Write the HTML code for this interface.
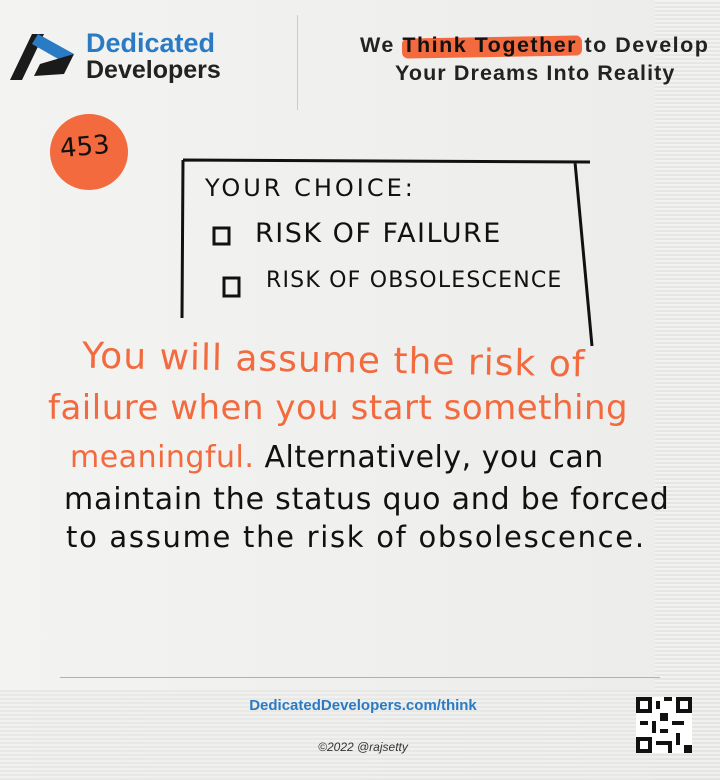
<!DOCTYPE html>
<html><head><meta charset="utf-8"><style>
body{margin:0;width:720px;height:780px;overflow:hidden;background:#efefed;font-family:"Liberation Sans",sans-serif;position:relative}
.abs{position:absolute}
.hand{font-family:"DejaVu Sans","Liberation Sans",sans-serif;white-space:nowrap}
</style></head><body>
<div class="abs" style="left:0;top:0;width:720px;height:780px;background:linear-gradient(90deg,#f3f3f1,#ececea)"></div>
<div class="abs" style="left:655px;top:0;width:65px;height:780px;background:repeating-linear-gradient(0deg,#e6e6e4 0 2px,#f2f2f0 2px 4px)"></div>
<div class="abs" style="left:0;top:690px;width:720px;height:90px;background:repeating-linear-gradient(0deg,#e4e4e2 0 2px,#f0f0ee 2px 4px);opacity:.7"></div>

<svg class="abs" style="left:8px;top:30px" width="70" height="52" viewBox="0 0 70 52">
<polygon points="2,50 24,4 36,4 14,50" fill="#1a1a1a"/>
<polygon points="30,4 66,24 52,30 24,14" fill="#2a7bc4"/>
<polygon points="32,34 66,24 56,44 26,46" fill="#1a1a1a"/>
</svg>
<div class="abs" style="left:86px;top:28px;font-size:27px;font-weight:bold;color:#2a7bc4">Dedicated</div>
<div class="abs" style="left:86px;top:56px;font-size:25px;font-weight:bold;color:#222">Developers</div>
<div class="abs" style="left:297px;top:15px;width:1px;height:95px;background:#ccc"></div>
<div class="abs" style="left:402px;top:37px;width:180px;height:20px;background:#f26a3d;border-radius:6px;transform:rotate(-1deg)"></div>
<div class="abs" style="left:360px;top:33px;font-size:21.5px;letter-spacing:1.5px;font-weight:bold;color:#222;white-space:nowrap">We <span style="color:#111">Think Together</span> to Develop</div>
<div class="abs" style="left:395px;top:61px;font-size:21.5px;letter-spacing:1.1px;font-weight:bold;color:#222;white-space:nowrap">Your Dreams Into Reality</div>

<div class="abs" style="left:50px;top:114px;width:78px;height:76px;border-radius:50%;background:#f26a3d"></div>
<div class="abs hand" style="left:60px;top:132px;font-size:26px;color:#111;transform:rotate(-5deg)">453</div>

<svg class="abs" style="left:0;top:0" width="720" height="780">
<path d="M183,160 L590,162 M183,160 L182,318 M575,162 L592,346" stroke="#111" stroke-width="3" fill="none"/>
<rect x="214" y="228" width="15" height="16" fill="none" stroke="#111" stroke-width="3"/>
<rect x="224" y="278" width="15" height="18" fill="none" stroke="#111" stroke-width="3"/>
</svg>
<div class="abs hand" style="left:205px;top:174px;font-size:24px;letter-spacing:3px;color:#111">YOUR CHOICE:</div>
<div class="abs hand" style="left:255px;top:218px;font-size:27px;letter-spacing:1.5px;color:#111">RISK OF FAILURE</div>
<div class="abs hand" style="left:266px;top:268px;font-size:22px;letter-spacing:1.2px;color:#111">RISK OF OBSOLESCENCE</div>

<div class="abs hand" style="left:82px;top:340px;font-size:36px;letter-spacing:1px;color:#f26a3d;transform:rotate(1deg)">You will assume the risk of</div>
<div class="abs hand" style="left:48px;top:388px;font-size:34px;color:#f26a3d;letter-spacing:0.5px">failure when you start something</div>
<div class="abs hand" style="left:70px;top:440px;font-size:30px;color:#111;letter-spacing:0.5px"><span style="color:#f26a3d">meaningful.</span> Alternatively, you can</div>
<div class="abs hand" style="left:64px;top:482px;font-size:30px;color:#111;letter-spacing:0.8px">maintain the status quo and be forced</div>
<div class="abs hand" style="left:66px;top:520px;font-size:29px;color:#111;letter-spacing:1.7px">to assume the risk of obsolescence.</div>

<div class="abs" style="left:60px;top:677px;width:600px;height:1px;background:#9fb6c8"></div>
<div class="abs" style="left:0;top:697px;width:726px;text-align:center;font-size:15px;font-weight:bold;color:#2a7bc4">DedicatedDevelopers.com/think</div>
<div class="abs" style="left:0;top:740px;width:726px;text-align:center;font-size:12px;font-style:italic;color:#333">©2022 @rajsetty</div>
<svg class="abs" style="left:636px;top:697px" width="56" height="56" viewBox="0 0 14 14">
<rect width="14" height="14" fill="#fff"/>
<g fill="#111"><rect x="0" y="0" width="4" height="4"/><rect x="10" y="0" width="4" height="4"/><rect x="0" y="10" width="4" height="4"/>
<rect x="5" y="1" width="1" height="2"/><rect x="7" y="0" width="2" height="1"/><rect x="6" y="4" width="2" height="2"/><rect x="4" y="6" width="1" height="3"/><rect x="9" y="6" width="3" height="1"/><rect x="6" y="8" width="2" height="1"/><rect x="10" y="9" width="1" height="3"/><rect x="5" y="11" width="3" height="1"/><rect x="12" y="12" width="2" height="2"/><rect x="1" y="6" width="2" height="1"/><rect x="8" y="11" width="1" height="3"/></g>
<g fill="#fff"><rect x="1" y="1" width="2" height="2"/><rect x="11" y="1" width="2" height="2"/><rect x="1" y="11" width="2" height="2"/></g>
</svg>
</body></html>
